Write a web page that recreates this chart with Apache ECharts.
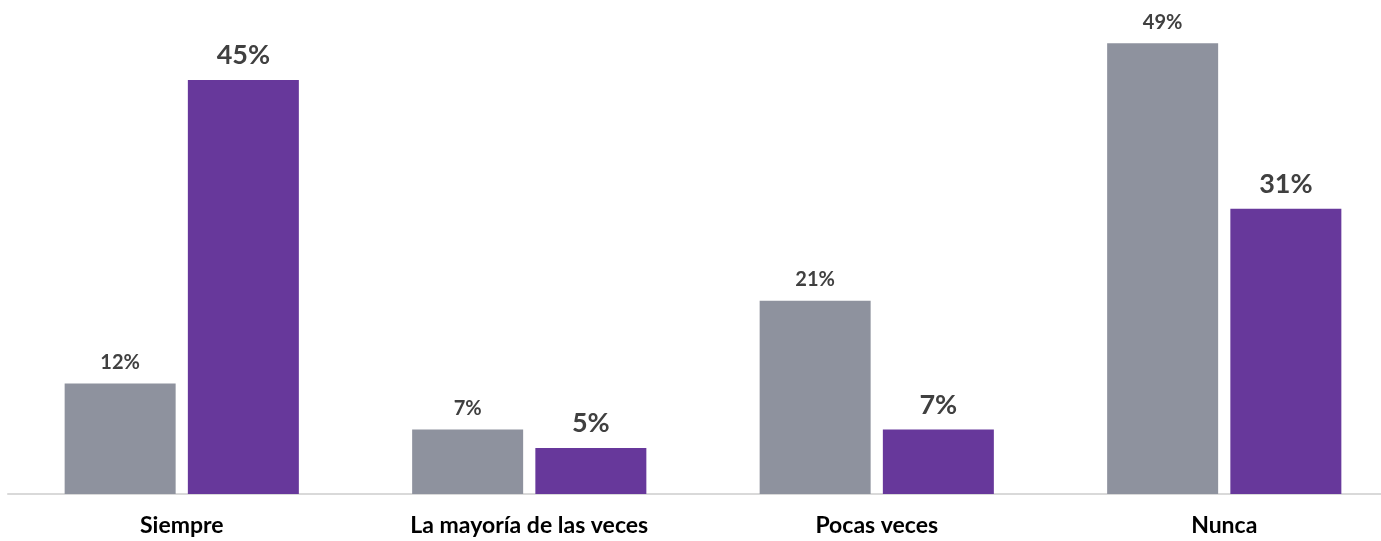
<!DOCTYPE html>
<html>
<head>
<meta charset="utf-8">
<style>
  html, body { margin: 0; padding: 0; background: #ffffff; overflow: hidden; width: 1381px; height: 541px; }
  /* the plot runs slightly past the right edge of the page */
  #chart { width: 1398px; height: 541px; }
</style>
<script src="https://cdn.jsdelivr.net/npm/echarts@6/dist/echarts.min.js"></script>
</head>
<body>
<div id="chart"></div>
<script>
// Answer categories and the share of each group, in percent
const categories = ['Siempre', 'La mayoría de las veces', 'Pocas veces', 'Nunca'];
const grayValues = [12, 7, 21, 49];
const purpleValues = [45, 5, 7, 31];

const chart = echarts.init(document.getElementById('chart'));

chart.setOption({
  animation: false,
  grid: { left: 8, right: 0, top: 34, bottom: 47, containLabel: false },
  xAxis: {
    type: 'category',
    data: categories,
    axisLine: { lineStyle: { color: '#d9d9d9', width: 2 } },
    axisTick: { show: false },
    axisLabel: {
      color: '#000000',
      fontFamily: 'Lato',
      fontWeight: 'bold',
      fontSize: 23,
      margin: 20
    }
  },
  yAxis: {
    type: 'value',
    min: 0,
    max: 50,
    show: false,
    splitLine: { show: false }
  },
  series: [
    {
      type: 'bar',
      data: grayValues,
      barWidth: 111,
      barGap: '11%',
      itemStyle: { color: '#8e929e' },
      label: {
        show: true,
        position: 'top',
        distance: 11,
        formatter: '{c}%',
        color: '#404040',
        fontFamily: 'Lato',
        fontWeight: 'bold',
        fontSize: 20
      }
    },
    {
      type: 'bar',
      data: purpleValues,
      barWidth: 111,
      itemStyle: { color: '#67389b' },
      label: {
        show: true,
        position: 'top',
        distance: 11,
        formatter: '{c}%',
        color: '#404040',
        fontFamily: 'Lato',
        fontWeight: 'bold',
        fontSize: 27
      }
    }
  ]
});
</script>
</body>
</html>
